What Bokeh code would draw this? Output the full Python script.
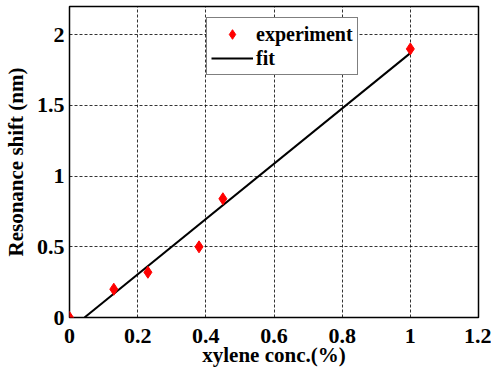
from bokeh.plotting import figure
from bokeh.models import Range1d, FixedTicker, Legend, LegendItem
from bokeh.embed import file_html
from bokeh.resources import INLINE

conc = [0.0, 0.13, 0.23, 0.38, 0.45, 1.0]
shift = [0.0, 0.20, 0.32, 0.50, 0.84, 1.90]
fit_x = [0.044, 1.0]
fit_y = [0.0, 1.87]
x_ticks = [0, 0.2, 0.4, 0.6, 0.8, 1, 1.2]
y_ticks = [0, 0.5, 1, 1.5, 2]

FONT = "Liberation Serif"

p = figure(width=491, height=374, output_backend="svg", toolbar_location=None,
           x_range=Range1d(0, 1.2), y_range=Range1d(0, 2.2),
           min_border_left=69, min_border_right=13, min_border_top=6, min_border_bottom=57)
p.background_fill_color = "white"
p.border_fill_color = "white"
p.outline_line_color = "black"
p.outline_line_width = 1.5

for ax in (p.xaxis[0], p.yaxis[0]):
    ax.major_label_text_font = FONT
    ax.major_label_text_font_style = "bold"
    ax.major_label_text_font_size = "22px"
    ax.major_label_text_color = "black"
    ax.axis_label_text_font = FONT
    ax.axis_label_text_font_style = "bold"
    ax.axis_label_text_font_size = "21px"
    ax.axis_label_text_color = "black"
    ax.axis_line_color = None
    ax.major_tick_line_color = None
    ax.minor_tick_line_color = None
    ax.major_tick_out = 0
    ax.major_tick_in = 0
    ax.minor_tick_out = 0
    ax.minor_tick_in = 0

p.xaxis.ticker = FixedTicker(ticks=x_ticks)
p.yaxis.ticker = FixedTicker(ticks=y_ticks)
p.xaxis.axis_label = "xylene conc.(%)"
p.yaxis.axis_label = "Resonance shift (nm)"
p.xaxis.major_label_standoff = 11
p.yaxis.major_label_standoff = 5
p.xaxis.axis_label_standoff = -3
p.yaxis.axis_label_standoff = 6

p.grid.grid_line_color = "black"
p.grid.grid_line_dash = "3 2"
p.grid.grid_line_width = 1
p.grid.grid_line_alpha = 0.8

line = p.line(fit_x, fit_y, line_color="black", line_width=2)
pts = p.scatter(conc, shift, marker="diamond", size=12, fill_color="red", line_color="red")

legend = Legend(items=[LegendItem(label="experiment", renderers=[pts]),
                       LegendItem(label="fit", renderers=[line])],
                location=(137, 242))
legend.label_text_font = FONT
legend.label_text_font_style = "bold"
legend.label_text_font_size = "20px"
legend.label_text_color = "black"
legend.border_line_color = "black"
legend.border_line_width = 1
legend.background_fill_alpha = 1
legend.glyph_width = 42
legend.glyph_height = 24
legend.label_height = 24
legend.spacing = 0
legend.padding = 4
legend.margin = 0
legend.label_standoff = 3
p.add_layout(legend, "center")

open("out.html", "w").write(file_html(p, INLINE))
